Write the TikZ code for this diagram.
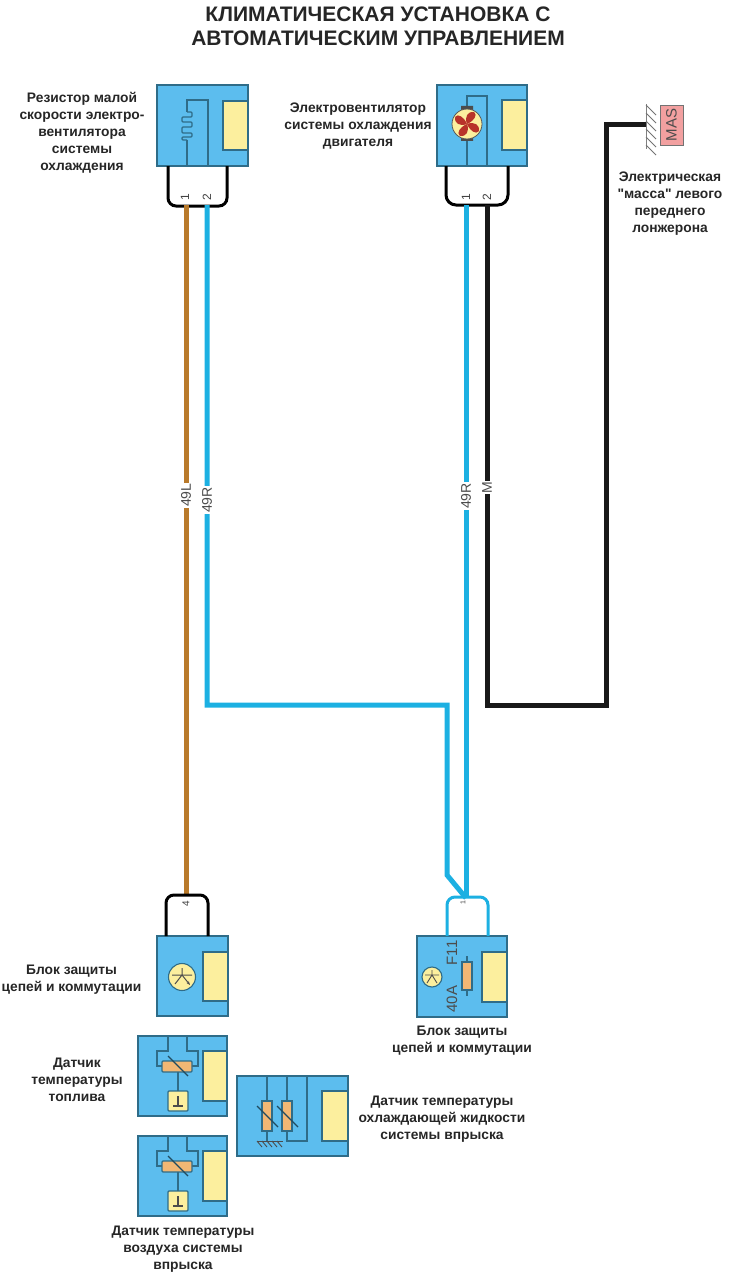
\documentclass[tikz,border=0pt]{standalone}
\usepackage{fontspec}
\setmainfont{Liberation Sans}
\newfontfamily\capfont{Liberation Sans}
\usetikzlibrary{arrows.meta,calc}
\definecolor{unitblue}{HTML}{5CBDEE}
\definecolor{unitedge}{HTML}{2F6C88}
\definecolor{unityellow}{HTML}{FCEF9E}
\definecolor{resorange}{HTML}{F2B774}
\definecolor{wireblue}{HTML}{1CB0E2}
\definecolor{wirebrown}{HTML}{B97A2B}
\definecolor{fanred}{HTML}{B8332A}
\definecolor{maspink}{HTML}{F2A0A0}
\tikzset{
	unitbox/.style={draw=unitedge, fill=unitblue, line width=1.3pt, inner sep=0pt, outer sep=0pt},
	yellowbox/.style={draw=unitedge, fill=unityellow, line width=1.1pt, inner sep=0pt, outer sep=0pt},
	resbox/.style={draw=unitedge, fill=resorange, line width=1.1pt, inner sep=0pt, outer sep=0pt},
	inner/.style={draw=unitedge, line width=1.2pt},
	wire/.style={line width=5pt, line join=miter},
	plug/.style={line width=3pt, rounded corners=8pt},
	caption/.style={font=\capfont\bfseries\fontsize{13.8}{17}\selectfont, align=center, inner sep=0pt, text=black!85},
	wirelabel/.style={font=\fontsize{14}{14}\selectfont, text=black!70, fill=white, rotate=90, inner xsep=1pt, inner ysep=0.5pt},
	pinlabel/.style={font=\fontsize{12}{12}\selectfont, text=black!75, rotate=90, inner sep=0pt},
	sensorunit/.pic={
		\node[unitbox, minimum width=89, minimum height=80] (box) at (44.5,40) {};
		\node[yellowbox, minimum width=24, minimum height=50] (lamp) at (77,40) {};
		\draw[inner] (30,0)--(30,15)--(19,15)--(19,30)--(24,30);
		\draw[inner] (49,0)--(49,15)--(60,15)--(60,30)--(54,30);
		\node[resbox, minimum width=30, minimum height=11, rounded corners=1pt] (res) at (39,30.5) {};
		\draw[inner] (40,36)--(40,55);
		\node[yellowbox, minimum width=20, minimum height=20, rounded corners=1pt] (gnd) at (40,65) {};
		\draw[line width=1.1pt, unitedge!70!black] (30,20)--(50,40);
		\draw[line width=1.2pt, black!70] (40,60)--(40,70) (35,70)--(45,70);
	},
}
\begin{document}
\begin{tikzpicture}[x=1pt, y=-1pt]
	\useasboundingbox (0,0) rectangle (733,1279);
	% title
	\node[font=\bfseries\fontsize{21}{24}\selectfont, align=center, inner sep=0pt, text=black!85] (title) at (378,26.5) {КЛИМАТИЧЕСКАЯ УСТАНОВКА С\\АВТОМАТИЧЕСКИМ УПРАВЛЕНИЕМ};
	% wire end points
	\coordinate (P1) at (186,205);
	\coordinate (P2) at (207,205);
	\coordinate (P3) at (466,205);
	\coordinate (P4) at (487,205);
	\coordinate (P5) at (186,896);
	\coordinate (P6) at (466,898);
	\coordinate (G) at (646,125);
	% top resistor unit
	\node[unitbox, minimum width=91, minimum height=81] (resistor) at (202.5,125.5) {};
	\node[yellowbox, minimum width=25, minimum height=49, anchor=east] (resistorlamp) at (248,125.5) {};
	\draw[inner] (187,166)--(187,140) (187,112)--(187,100)--(208,100)--(208,166);
	\draw[inner, rounded corners=1pt] (187,112)--(192,112)--(192,117)--(182,117)--(182,122)--(192,122)--(192,127)--(182,127)--(182,133)--(192,133)--(192,137)--(182,137)--(182,140)--(187,140);
	\draw[plug] (168,166)--(168,206)--(227,206)--(227,166);
	\node[pinlabel] (resistorpin1) at (185,197) {1};
	\node[pinlabel] (resistorpin2) at (207,197) {2};
	% top fan unit
	\node[unitbox, minimum width=90, minimum height=81] (fan) at (482,125.5) {};
	\node[yellowbox, minimum width=25, minimum height=50, anchor=east] (fanlamp) at (527,125) {};
	\draw[inner] (467,166)--(467,96)--(487,96)--(487,166);
	\fill[black!70] (461,106) rectangle (473,110) (461,137) rectangle (473,141);
	\node[circle, draw=black!65, fill=unityellow, line width=0.8pt, minimum size=30, inner sep=0pt] (fanmotor) at (467,124) {};
	\foreach \a in {45,135,225,315}
		\fill[fanred, shift={(467,124)}, rotate=\a] (0,0) .. controls (-7,-3) and (-9,-10) .. (-3,-13.5) .. controls (1,-13.5) and (3,-8) .. (0,0);
	\draw[plug, rounded corners=10pt] (446,166)--(446,205)--(508,205)--(508,166);
	\node[pinlabel] (fanpin1) at (466,197) {1};
	\node[pinlabel] (fanpin2) at (487,197) {2};
	% wires
	\draw[wire, wirebrown] (P1)--node[wirelabel, pos=0.42] (w49L) {49L} (P5);
	\draw[wire, wireblue] (P3)--node[wirelabel, pos=0.42] (w49Rb) {49R} (P6);
	\draw[wire, wireblue] (P2)--node[wirelabel, pos=0.59] (w49Ra) {49R} (207,705)--(447,705)--(447,875)--(P6);
	\draw[wire, black!90] (P4)--node[wirelabel, pos=0.565] (wM) {M} (487,705)--(606,705)--(606,125)--(G);
	% ground
	\draw[black!50, line width=1pt] (646,104)--(646,149);
	\foreach \y in {105,113,121,129,137,145}
		\draw[black!55, line width=1pt] (646,\y)--(656,\y+10);
	\node[draw=black!55, fill=maspink, line width=0.8pt, minimum width=40, minimum height=23, inner sep=0pt, rotate=90, font=\fontsize{15}{15}\selectfont, text=black!70] (mas) at (671.5,125) {MAS};
	% bottom left unit
	\node[unitbox, minimum width=71, minimum height=80] (relay) at (192.5,976) {};
	\node[yellowbox, minimum width=25, minimum height=49, anchor=east] (relaylamp) at (228,976.5) {};
	\node[circle, draw=unitedge, fill=unityellow, line width=1.1pt, minimum size=27, inner sep=0pt] (relaymark) at (182,977) {};
	\draw[black!70, line width=1pt] (172,975)--(192,975) (182,968)--(182,975) (182,975)--(175,984);
	\draw[black!70, line width=1pt, -{Stealth[length=4pt]}] (182,975)--(190,985);
	\draw[plug] (166,936)--(166,895)--(208,895)--(208,936);
	\node[pinlabel, font=\fontsize{10}{10}\selectfont] (relaypin) at (186,904) {4};
	% bottom right unit
	\node[unitbox, minimum width=90, minimum height=81] (fuse) at (462,976.5) {};
	\node[yellowbox, minimum width=25, minimum height=50, anchor=east] (fuselamp) at (507,977) {};
	\node[circle, draw=unitedge, fill=unityellow, line width=1.1pt, minimum size=20, inner sep=0pt] (fusemark) at (432,977) {};
	\draw[black!70, line width=0.9pt] (425,975)--(439,975) (432,970)--(432,975) (432,975)--(427,983) (432,975)--(437,983);
	\draw[inner] (467,956)--(467,996);
	\node[resbox, minimum width=10, minimum height=28] (fuseres) at (467,976) {};
	\node[pinlabel, font=\fontsize{15}{15}\selectfont, text=black!70] (fusename) at (452,953) {F11};
	\node[pinlabel, font=\fontsize{15}{15}\selectfont, text=black!70] (fuseamps) at (452,999) {40A};
	\draw[plug, wireblue] (447,936)--(447,897)--(488,897)--(488,936);
	\node[pinlabel, font=\fontsize{7}{7}\selectfont] (fusepin) at (463,903) {1};
	% sensors
	\pic (fuel) at (138,1036) {sensorunit};
	\pic (air) at (138,1136) {sensorunit};
	\node[unitbox, minimum width=111, minimum height=80] (coolant) at (292.5,1116) {};
	\node[yellowbox, minimum width=26, minimum height=50, anchor=east] (coolantlamp) at (348,1116) {};
	\draw[inner] (267,1076)--(267,1141) (287,1076)--(287,1141)--(307,1141)--(307,1076);
	\node[resbox, minimum width=10, minimum height=30] (coolantres1) at (267,1116) {};
	\node[resbox, minimum width=10, minimum height=30] (coolantres2) at (287,1116) {};
	\draw[line width=1.1pt, unitedge!70!black] (257,1106)--(278,1127) (277,1106)--(298,1127);
	\draw[black!70, line width=1pt] (257,1141)--(283,1141);
	\foreach \x in {257,262,267,272,277}
		\draw[black!70, line width=0.9pt] (\x,1141)--(\x+5,1147);
	% captions
	\node[caption] (resistortext) at (82,133) {Резистор малой\\скорости электро-\\вентилятора\\системы\\охлаждения};
	\node[caption] (fantext) at (358,126.5) {Электровентилятор\\системы охлаждения\\двигателя};
	\node[caption] (masstext) at (670,203.5) {Электрическая\\"масса" левого\\переднего\\лонжерона};
	\node[caption] (relaytext) at (71.5,979.5) {Блок защиты\\цепей и коммутации};
	\node[caption] (fusetext) at (462,1041) {Блок защиты\\цепей и коммутации};
	\node[caption] (fueltext) at (77,1080) {Датчик\\температуры\\топлива};
	\node[caption] (coolanttext) at (442,1119) {Датчик температуры\\охлаждающей жидкости\\системы впрыска};
	\node[caption] (airtext) at (183,1249) {Датчик температуры\\воздуха системы\\впрыска};
\end{tikzpicture}
\end{document}
